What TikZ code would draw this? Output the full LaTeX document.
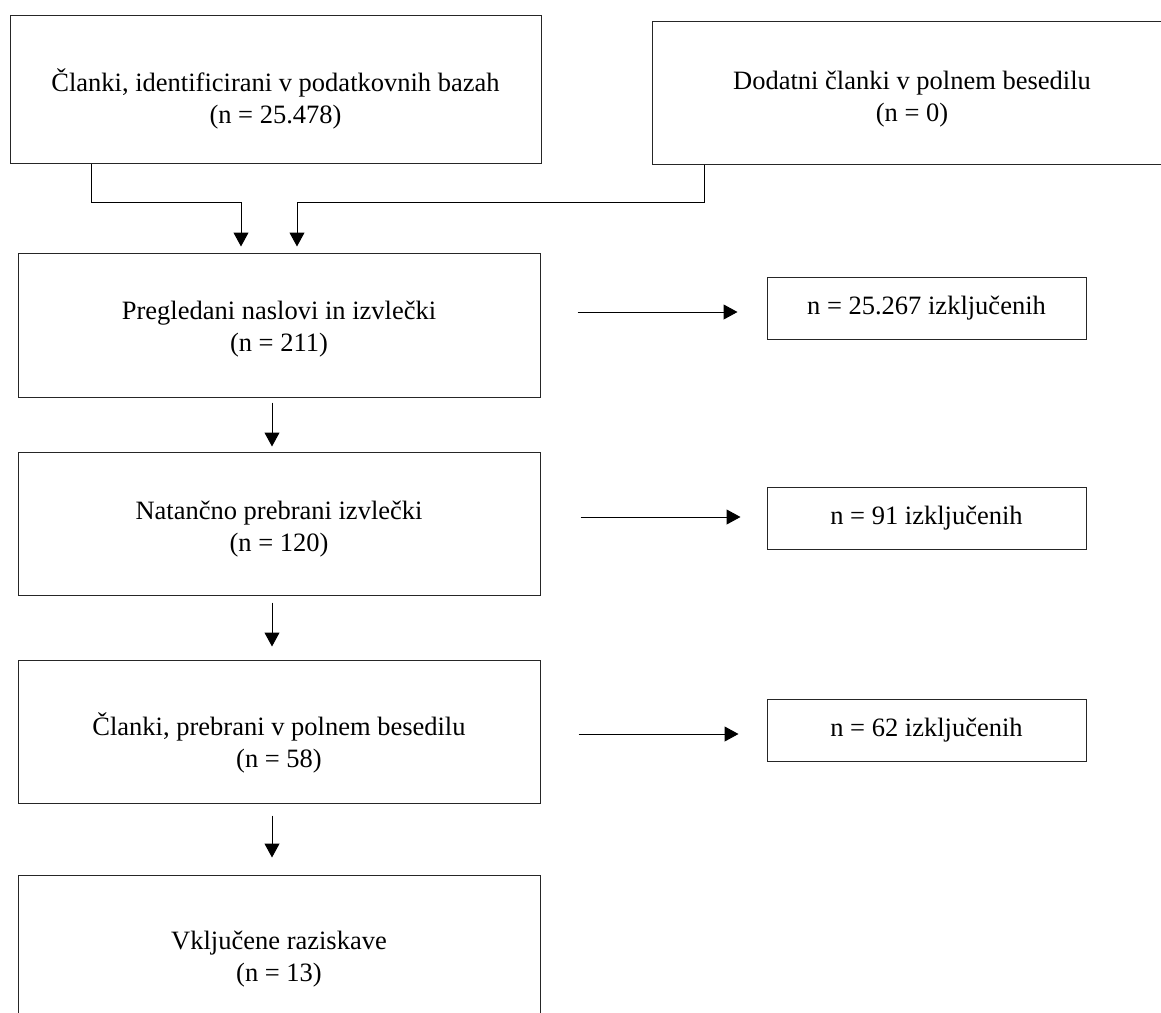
\documentclass[tikz,border=0pt]{standalone}
\usepackage{fontspec}
\setmainfont{Liberation Serif}
\usetikzlibrary{arrows.meta}
\newcommand{\lnstrut}{\rule[-9pt]{0pt}{30pt}}
\begin{document}
\begin{tikzpicture}[x=1pt,y=-1pt,
  box/.style={draw=black!85, line width=1pt, rectangle, inner sep=0pt},
  mainbox/.style={box, minimum width=522pt, minimum height=144pt},
  exbox/.style={box, minimum width=319pt, minimum height=62pt, font=\fontsize{26.5}{32}\selectfont},
  txt/.style={align=center, inner sep=0pt, font=\fontsize{26.5}{32}\selectfont},
  arr/.style={draw=black, line width=1pt, -{Triangle[length=14pt,width=15pt]}}]
\useasboundingbox[fill=white] (0,0) rectangle (1161,1012);

% boxes
\node[box, minimum width=531pt, minimum height=148pt] (b1) at (275.5,89) {};
\node[box, minimum width=520pt, minimum height=143pt] (b2) at (912,92.5) {};
\node[mainbox] (pr) at (279,325) {};
\node[mainbox, minimum height=143pt] (na) at (279,523.5) {};
\node[mainbox, minimum height=143pt] (cp) at (279,731.5) {};
\node[mainbox, minimum height=143pt] (vk) at (279,946.5) {};
\node[exbox] (e1) at (926.5,308) {\lnstrut n = 25.267 izključenih};
\node[exbox] (e2) at (926.5,518) {\lnstrut n = 91 izključenih};
\node[exbox] (e3) at (926.5,730) {\lnstrut n = 62 izključenih};

% texts
\node[txt] (t1) at (275.5,101) {\lnstrut Članki, identificirani v podatkovnih bazah\\\lnstrut (n = 25.478)};
\node[txt] (t2) at (912,99.5) {\lnstrut Dodatni članki v polnem besedilu\\\lnstrut (n = 0)};
\node[txt] (tpr) at (279,329) {\lnstrut Pregledani naslovi in izvlečki\\\lnstrut (n = 211)};
\node[txt] (tna) at (279,529.5) {\lnstrut Natančno prebrani izvlečki\\\lnstrut (n = 120)};
\node[txt] (tcp) at (279,745) {\lnstrut Članki, prebrani v polnem besedilu\\\lnstrut (n = 58)};
\node[txt] (tvk) at (279,959) {\lnstrut Vključene raziskave\\\lnstrut (n = 13)};

% helper coordinates
\coordinate (xa) at (91,202);
\coordinate (xb) at (241,202);
\coordinate (xc) at (297,202);
\coordinate (xd) at (704,202);
\coordinate (xm) at (272,0);
\coordinate (y1) at (0,312);
\coordinate (y2) at (0,517);
\coordinate (y3) at (0,734);

% connectors
\draw[arr, shorten >=6pt] (b1.south -| xa) -- (xa) -- (xb) -- (pr.north -| xb);
\draw[arr, shorten >=6pt] (b2.south -| xd) -- (xd) -- (xc) -- (pr.north -| xc);
\draw[arr, shorten <=5pt, shorten >=5pt] (pr.south -| xm) -- (na.north -| xm);
\draw[arr, shorten <=7pt, shorten >=13pt] (na.south -| xm) -- (cp.north -| xm);
\draw[arr, shorten <=12pt, shorten >=17pt] (cp.south -| xm) -- (vk.north -| xm);
\draw[arr, shorten <=37pt, shorten >=29pt] (pr.east |- y1) -- (e1.west |- y1);
\draw[arr, shorten <=40pt, shorten >=26pt] (na.east |- y2) -- (e2.west |- y2);
\draw[arr, shorten <=38pt, shorten >=28pt] (cp.east |- y3) -- (e3.west |- y3);
\end{tikzpicture}
\end{document}
